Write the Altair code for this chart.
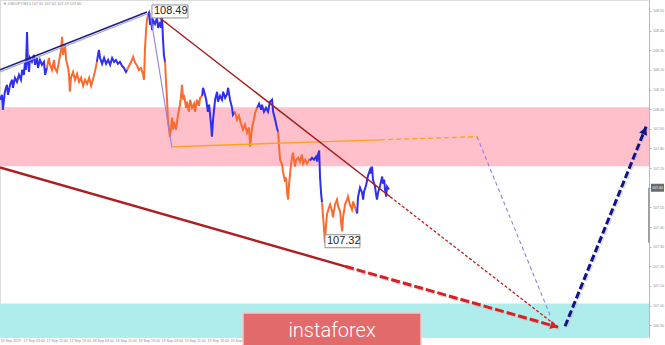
import altair as alt
import pandas as pd

# USDJPY path: hours counted from the first bar, and price
hours = [
    0.0, 0.7, 1.0, 1.7, 2.4, 2.8, 3.5, 4.2, 4.5, 5.2, 5.9, 6.6, 7.3, 7.7, 8.3, 8.7, 9.0, 9.4, 9.7, 10.1,
    10.4, 11.1, 11.8, 12.2, 12.9, 13.2, 13.9, 14.6, 15.3, 15.7, 16.3,
    17.0, 17.4, 18.1, 18.8, 19.1, 19.8, 20.5, 21.2, 21.6, 21.9, 22.6, 23.0, 23.7, 24.0, 24.3, 24.7, 25.4,
    26.1, 26.8, 27.5, 28.2, 28.9, 29.6, 30.3, 31.0, 31.7, 32.3, 33.0, 33.7,
    34.1, 34.4, 34.8, 35.5, 36.2, 36.9, 37.6, 38.3, 39.0, 39.7, 40.3, 41.0, 41.7, 42.4, 43.1, 43.8, 44.2,
    44.9, 45.6, 46.3, 47.0, 47.7, 48.3, 49.0, 49.7, 50.1, 50.4, 50.8, 51.1, 51.5,
    51.8, 52.2, 52.5, 52.9, 53.2, 53.9, 54.6, 55.0, 55.7, 56.0, 56.3, 56.7, 57.0, 57.4,
    57.7, 58.1, 58.4, 59.1, 59.5, 59.8, 60.2, 60.5, 61.2, 61.9, 62.6, 63.0, 63.3, 63.7, 64.0, 64.7, 65.0,
    65.7, 66.1, 66.8, 67.5, 67.8, 68.5, 69.2, 69.6, 70.3,
    70.6, 71.3, 71.7, 72.3, 72.7, 73.4, 73.7, 74.1, 74.8, 75.5, 75.8, 76.5, 77.2, 77.6, 78.3, 79.0, 79.3,
    80.0, 80.7, 81.0, 81.7,
    82.4, 83.1, 83.8, 84.5, 85.2, 85.9, 86.6, 87.0, 87.3, 87.7, 88.3, 88.7, 89.4,
    90.1, 90.8, 91.1, 91.8, 92.5, 93.2, 93.9, 94.6, 95.0, 95.7, 96.3, 96.7,
    97.0, 97.4, 98.1, 98.4, 99.1, 99.5, 99.8, 100.2, 100.5, 101.2, 101.6, 101.9, 102.6, 103.0, 103.7,
    104.3, 105.0, 105.4, 106.1, 106.8, 107.5, 107.8,
    108.5, 109.2, 109.9, 110.3, 110.6, 111.0, 111.3, 111.7, 112.0,
    112.3, 112.7, 113.0, 113.4, 113.7, 114.4, 114.8, 115.5, 115.8, 116.5, 117.2, 117.6, 118.3, 118.6,
    119.0, 119.3, 120.0, 120.7, 121.0, 121.7, 122.4, 122.8, 123.5, 124.2,
    124.5, 124.9, 125.2, 125.9, 126.3, 126.6, 127.3, 127.7, 128.0, 128.7, 129.0, 129.4, 129.7, 130.4,
    130.8, 131.1, 131.5, 132.2, 132.5, 132.9, 133.2, 133.6, 133.9, 134.3, 134.6, 135.3,
]
prices = [
    108.048, 108.073, 107.997, 108.089, 108.124, 108.073, 108.124, 108.150, 108.109, 108.160, 108.139,
    108.175, 108.150, 108.200, 108.175, 108.241, 108.200, 108.393, 108.241, 108.190,
    108.261, 108.241, 108.277, 108.226, 108.261, 108.210, 108.251, 108.226, 108.241, 108.175, 108.210,
    108.261, 108.226, 108.200, 108.251, 108.210, 108.190, 108.241, 108.302, 108.368, 108.277, 108.327,
    108.251, 108.210, 108.175, 108.089, 108.160, 108.190, 108.150, 108.180, 108.139, 108.160, 108.119,
    108.150, 108.129, 108.160, 108.119, 108.150, 108.190, 108.241,
    108.277, 108.302, 108.261, 108.231, 108.261, 108.231, 108.251, 108.226, 108.261, 108.241, 108.251,
    108.231, 108.241, 108.221, 108.210, 108.190, 108.200,
    108.221, 108.241, 108.266, 108.236, 108.221, 108.200, 108.210, 108.180, 108.150, 108.302, 108.403,
    108.454, 108.480,
    108.490, 108.429, 108.464, 108.403, 108.454, 108.434, 108.464, 108.414, 108.444, 108.414, 108.480,
    108.353, 108.277, 108.241,
    108.150, 108.048, 107.946, 107.860, 107.906, 107.957, 107.896, 107.936, 107.896, 107.972, 108.023,
    108.073, 108.124, 108.048, 108.073, 108.007, 108.038, 107.987, 108.048, 108.007, 108.028, 107.987,
    108.048, 108.017, 108.058, 108.068,
    108.109, 108.073, 108.048, 107.987, 108.023, 107.921, 107.860, 107.946, 108.048, 108.089, 108.038,
    108.068, 108.048, 108.089, 108.058, 108.078, 108.109, 108.048, 108.007, 107.972, 107.987,
    107.946, 107.967, 107.926, 107.896, 107.921, 107.880, 107.906, 107.809, 107.855, 107.911, 107.946,
    107.982, 108.007,
    108.028, 107.997, 108.023, 107.987, 108.007, 107.987, 108.038, 108.048, 107.987, 107.946, 107.906,
    107.885,
    107.819, 107.743, 107.718, 107.682, 107.631, 107.652, 107.581, 107.540, 107.616, 107.718, 107.758,
    107.779, 107.708, 107.743, 107.753, 107.733, 107.769, 107.723, 107.743, 107.723, 107.743, 107.738,
    107.753, 107.743, 107.758, 107.733, 107.769, 107.789, 107.652, 107.565, 107.525,
    107.464, 107.388, 107.320, 107.413, 107.464, 107.499, 107.515, 107.479, 107.449, 107.515, 107.540,
    107.505, 107.479, 107.428, 107.378, 107.449, 107.515, 107.540, 107.555, 107.515, 107.489, 107.530,
    107.499, 107.469,
    107.550, 107.581, 107.601, 107.576, 107.540, 107.581, 107.611, 107.642, 107.662, 107.692, 107.672,
    107.708, 107.642, 107.606, 107.565, 107.540, 107.576, 107.611, 107.631, 107.657, 107.621, 107.642,
    107.591, 107.555, 107.606, 107.591,
]
assert len(hours) == len(prices)

# hours at which the path turns; waves alternate up (blue) / down (orange)
wave_turns = [0.0, 16.3, 33.7, 44.2, 51.5, 57.4, 70.3, 81.7, 89.4, 96.7, 107.8, 112.0, 124.2, 135.3]
wave_dirs = ["up", "down"]
wave_colors = ["#2f2ff2", "#fb6a2f"]

# target zones
zone_names = ["resistance", "support"]
zone_low = [107.71, 106.84]
zone_high = [108.01, 107.01]
zone_colors = ["#ffc0cb", "#afeded"]

# wave markup lines (hour, price)
channel_top = [(0.0, 108.200), (51.1, 108.495)]
purple_leg = [(52.2, 108.490), (59.8, 107.804)]
orange_base = [(60.2, 107.809), (132.2, 107.844)]
orange_base_ext = [(132.2, 107.844), (165.9, 107.860)]
purple_proj = [(165.9, 107.860), (191.3, 106.951)]
red_trend = [(52.9, 108.495), (135.7, 107.554)]
red_trend_ext = [(135.7, 107.554), (194.1, 106.890)]
red_lower = [(0.0, 107.703), (120.0, 107.200)]
red_lower_ext = [(120.0, 107.200), (194.1, 106.890)]
navy_proj = [(196.5, 106.895), (224.7, 107.911)]
red_head = [(192.3, 106.898)]
navy_head = [(224.0, 107.885)]

# extreme labels
peak = (51.8, 108.49)
trough = (113.0, 107.32)
last_price = 107.60

# axes
time_step = 8
time_ticks = [0, 8, 16, 24, 32, 40, 48, 56, 64, 72, 80]
time_labels = ["16 Sep 2019", "17 Sep 03:00", "17 Sep 11:00", "17 Sep 19:00", "18 Sep 03:00",
               "18 Sep 11:00", "18 Sep 19:00", "19 Sep 03:00", "19 Sep 11:00", "19 Sep 19:00",
               "20 Sep 03:00"]
price_ticks = [106.9, 107.0, 107.1, 107.2, 107.3, 107.4, 107.5, 107.6, 107.7, 107.8, 107.9,
               108.0, 108.1, 108.2, 108.3, 108.4, 108.5]

W, H = 649, 337
x_scale = alt.Scale(domain=[0, 225.7], nice=False, zero=False)
y_scale = alt.Scale(domain=[106.84, 108.556], nice=False, zero=False)

label_expr = "[" + ",".join(f"'{t}'" for t in time_labels) + f"][round(datum.value / {time_step})]"
x_axis = alt.Axis(values=time_ticks, labelExpr=label_expr, orient="bottom", title=None, grid=False,
                  domain=False, ticks=False, labelAlign="left", labelFontSize=3.6, labelColor="#8c8c8c",
                  labelPadding=1.5, labelOverlap=False, labelFont="Liberation Sans", labelFlush=False)
y_axis = alt.Axis(values=price_ticks, format=".2f", orient="right", title=None, grid=False,
                  domainColor="#b8b8b8", tickColor="#b8b8b8", tickSize=2, labelFontSize=3.6,
                  labelColor="#8c8c8c", labelPadding=1.5, labelFont="Liberation Sans")


def X(field="h"):
    return alt.X(f"{field}:Q", scale=x_scale, axis=x_axis)


def Y(field="p"):
    return alt.Y(f"{field}:Q", scale=y_scale, axis=y_axis)


one = pd.DataFrame({"k": [0]})

# zones (fill channel, kept apart from the wave colours on stroke)
zones = alt.Chart(pd.DataFrame({"zone": zone_names, "lo": zone_low, "hi": zone_high})).mark_rect().encode(
    y=Y("lo"), y2=alt.Y2("hi:Q"),
    fill=alt.Fill("zone:N", scale=alt.Scale(domain=zone_names, range=zone_colors), legend=None),
)

# price path split into waves
rows = []
for k in range(len(wave_turns) - 1):
    lo, hi = wave_turns[k], wave_turns[k + 1]
    for i, (h, p) in enumerate(zip(hours, prices)):
        if lo <= h <= hi:
            rows.append({"h": h, "p": p, "wave": k, "dir": wave_dirs[k % 2], "i": i})
price = alt.Chart(pd.DataFrame(rows)).mark_line(strokeWidth=2, strokeJoin="miter", clip=True).encode(
    x=X(), y=Y(),
    stroke=alt.Stroke("dir:N", scale=alt.Scale(domain=wave_dirs, range=wave_colors), legend=None),
    detail="wave:N", order="i:Q",
)


def seg(points, color, width, dash=None, dx=0, dy=0, opacity=1.0):
    kw = dict(color=color, strokeWidth=width, clip=False, strokeCap="butt", opacity=opacity)
    if dash:
        kw["strokeDash"] = dash
    if dx:
        kw["xOffset"] = dx
    if dy:
        kw["yOffset"] = dy
    return alt.Chart(pd.DataFrame(points, columns=["h", "p"])).mark_line(**kw).encode(x=X(), y=Y())


def head(points, color, angle, size=75):
    return alt.Chart(pd.DataFrame(points, columns=["h", "p"])).mark_point(
        shape="triangle", filled=True, size=size, angle=angle, color=color, opacity=1, clip=False
    ).encode(x=X(), y=Y())


def tag(pt, text, x0, x1):
    df = pd.DataFrame({"h": [pt[0]], "p": [pt[1]], "t": [text]})
    box = alt.Chart(df).mark_rect(fill="white", stroke="#8f8f8f", strokeWidth=1,
                                  xOffset=x0, x2Offset=x1, yOffset=-8, y2Offset=5).encode(
        x=X(), x2=alt.X2("h:Q"), y=Y(), y2=alt.Y2("p:Q"))
    txt = alt.Chart(df).mark_text(align="left", baseline="middle", dx=x0 + 2, dy=-1.5, fontSize=11,
                                  font="Liberation Sans", color="#222222").encode(x=X(), y=Y(), text="t:N")
    return [box, txt]


lines = [
    seg(channel_top, "#a4a8c8", 1.3, dy=2),
    seg(channel_top, "#1c1c80", 1.5),
    seg(purple_leg, "#9a7ee0", 1.1),
    seg(orange_base, "#ffa31a", 1.4),
    seg(orange_base_ext, "#ffa31a", 1.4, dash=[5, 3]),
    seg(purple_proj, "#9a7ee0", 1.1, dash=[4, 3]),
    seg(red_trend, "#a81c1c", 1.5),
    seg(red_trend_ext, "#c41e1e", 1.3, dash=[3, 2]),
    seg(red_lower, "#ae1e1e", 2.4),
    seg(red_lower_ext, "#c0c0c0", 3, dash=[9, 3], dx=1, dy=1.5, opacity=0.6),
    seg(red_lower_ext, "#d82020", 3, dash=[9, 3]),
    seg(navy_proj, "#c0c0c0", 3, dash=[7, 3], dx=1.5, dy=1, opacity=0.6),
    seg(navy_proj, "#12128a", 3, dash=[7, 3]),
    head(red_head, "#d82020", 106),
    head(navy_head, "#12128a", 22),
]

labels = tag(peak, "108.49", 3, 39) + tag(trough, "107.32", 0, 35)

# current price marker on the price scale
cur = pd.DataFrame({"p": [last_price], "p2": [trough[1]], "t": [f"{last_price:.2f}"]})
cur_bar = alt.Chart(cur).mark_rule(color="#a0a0a0", strokeWidth=2, clip=False).encode(
    x=alt.value(W), y=Y(), y2=alt.Y2("p2:Q"))
cur_box = alt.Chart(cur).mark_rect(color="#6a6a6a", yOffset=-4, y2Offset=4, clip=False).encode(
    x=alt.value(W + 2), x2=alt.value(W + 15), y=Y(), y2=alt.Y2("p:Q"))
cur_txt = alt.Chart(cur).mark_text(color="white", fontSize=3.6, align="left", baseline="middle",
                                   clip=False).encode(x=alt.value(W + 3), y=Y(), text="t:N")

# symbol header
header = alt.Chart(one).mark_text(align="left", baseline="top", fontSize=3.8, color="#8c8c8c",
                                  font="Liberation Sans").encode(
    x=alt.value(3), y=alt.value(2), text=alt.value("\u25bc USDJPY,M15  107.61 107.62 107.59 107.60"))

# watermark
logo_box = alt.Chart(one).mark_rect(fill="#e26a6a", stroke="#f6c6c6", strokeWidth=1.5, clip=False).encode(
    x=alt.value(243), x2=alt.value(421), y=alt.value(313), y2=alt.value(346))
logo_txt = alt.Chart(one).mark_text(text="instaforex", color="white", fontSize=20, fontWeight=300,
                                    font="Roboto", align="center", baseline="alphabetic", clip=False).encode(
    x=alt.value(332), y=alt.value(336.5))

chart = alt.layer(
    zones, price, *lines, *labels, cur_bar, cur_box, cur_txt, header, logo_box, logo_txt
).properties(
    width=W, height=H,
    autosize=alt.AutoSizeParams(type="none"),
    padding={"left": 0, "top": 0, "right": 16, "bottom": 8},
    background="white",
).configure_view(stroke="#dcdcdc")

chart.save("out.html", embed_options={"renderer": "svg", "actions": False})
